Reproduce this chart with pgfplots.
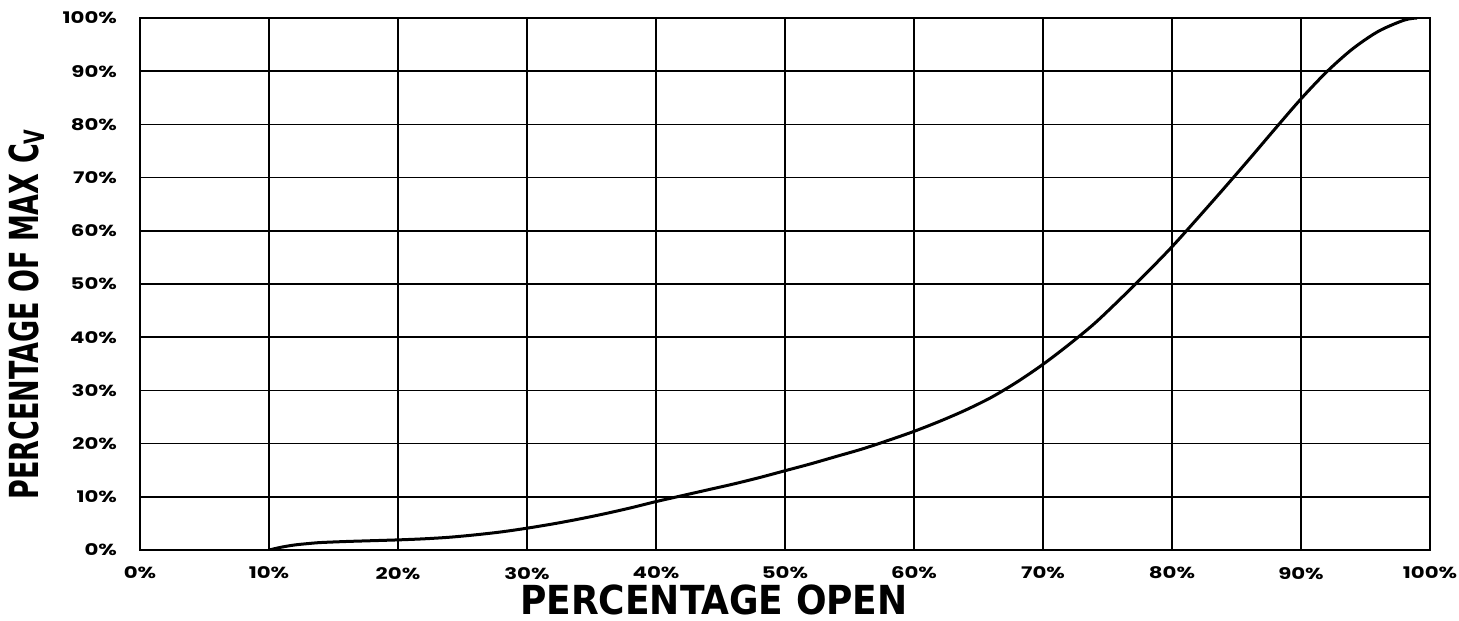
\documentclass[border=0pt]{standalone}
\usepackage{fontspec}
\setmainfont{Poppins}
\newfontfamily\tickfont[FakeStretch=1.33]{Poppins}
\newfontfamily\condfont{DejaVu Sans Condensed}
\newfontfamily\ycondfont[FakeStretch=0.75]{DejaVu Sans Condensed}
\usepackage{pgfplots}
\pgfplotsset{compat=1.18}
\begin{document}
\begin{tikzpicture}
\useasboundingbox (-70pt,-35pt) rectangle (659.5pt,275pt);
\begin{axis}[
  scale only axis,
  width=645pt, height=266pt,
  xmin=0, xmax=100, ymin=0, ymax=100,
  xtick={0,10,...,100}, ytick={0,10,...,100},
  grid=major,
  major grid style={black, line width=0.75pt},
  axis line style={black, line width=0.8pt},
  major tick length=0pt,
  /pgf/number format/assume math mode=true,
  xticklabel={\pgfmathprintnumber{\tick}\%},
  yticklabel={\pgfmathprintnumber{\tick}\%},
  tick label style={font=\fontsize{8}{10}\selectfont\tickfont\bfseries},
  xticklabel style={yshift=-5pt},
  yticklabel style={xshift=-8pt},
  xlabel={\condfont\bfseries PERCENTAGE OPEN},
  ylabel={\ycondfont\bfseries PERCENTAGE OF MAX C\textsubscript{V}},
  label style={font=\fontsize{20}{22}\selectfont},
  xlabel style={yshift=4pt, xshift=-35.5pt},
  ylabel style={yshift=2pt, xshift=-15pt},
]
\addplot[black, line width=1.5pt, smooth, tension=0.5] coordinates {
(10,0) (11,0.55) (12,0.95) (13,1.2) (14,1.4) (16,1.6) (18,1.75) (20,1.9)
(22,2.1) (24,2.4) (26,2.85) (28,3.4) (30,4.1) (32,4.9) (34,5.8) (36,6.8)
(38,7.9) (40,9.1) (42,10.2) (44,11.3) (46,12.4) (48,13.6) (50,14.9)
(52,16.2) (54,17.6) (56,19.0) (58,20.6) (60,22.3) (62,24.2) (64,26.3)
(66,28.7) (68,31.6) (70,34.9) (72,38.6) (74,42.6) (76,47.2) (78,52.0)
(80,57.0) (82,62.4) (84,67.9) (86,73.5) (88,79.2) (90,84.8) (92,89.9)
(94,94.2) (96,97.5) (98,99.6) (99,100)
};
\end{axis}
\end{tikzpicture}
\end{document}
